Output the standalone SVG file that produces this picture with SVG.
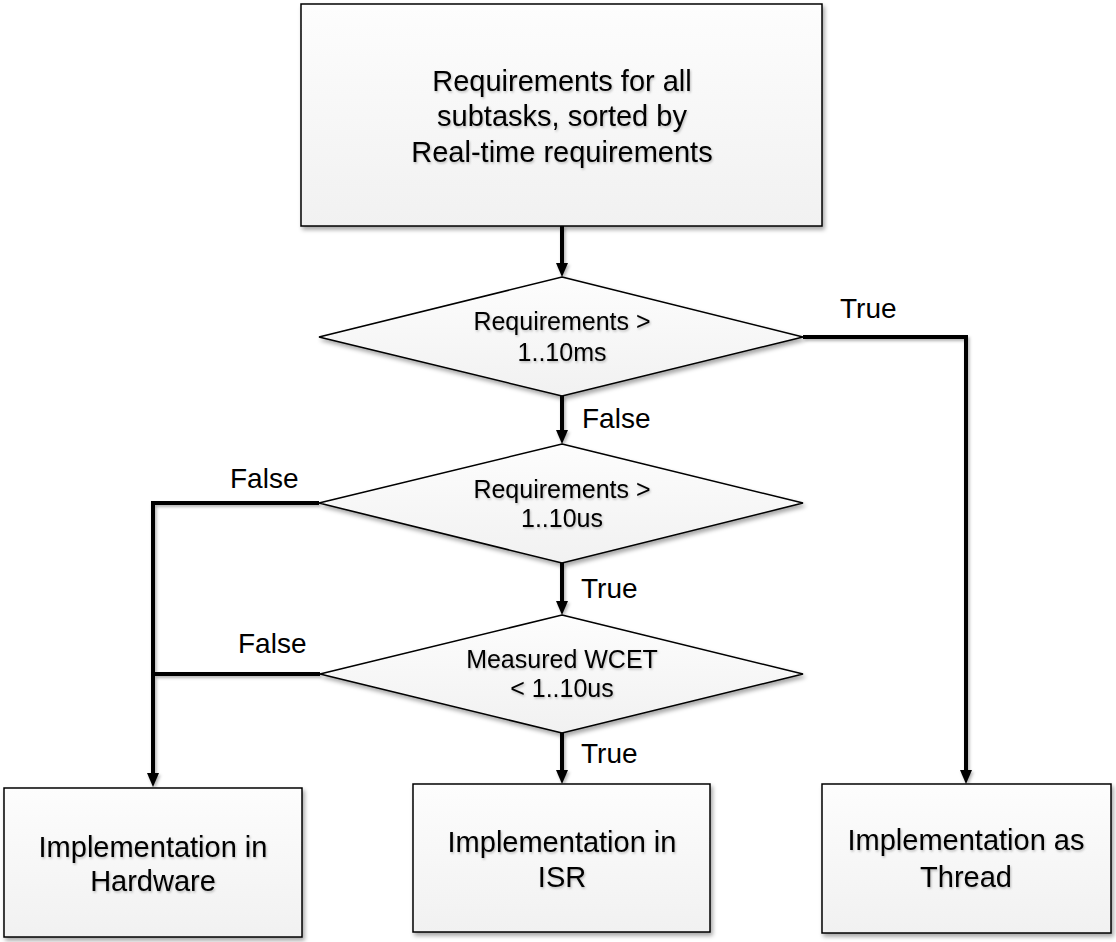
<svg xmlns="http://www.w3.org/2000/svg" width="1116" height="942" viewBox="0 0 1116 942">
<defs>
<linearGradient id="g" x1="0" y1="0" x2="0" y2="1">
<stop offset="0" stop-color="#fdfdfd"/>
<stop offset="1" stop-color="#f1f1f1"/>
</linearGradient>
<filter id="sh" x="-10%" y="-10%" width="120%" height="130%">
<feDropShadow dx="2" dy="3" stdDeviation="2" flood-color="#000" flood-opacity="0.35"/>
</filter>
<filter id="lsh" filterUnits="userSpaceOnUse" x="0" y="0" width="1116" height="942">
<feDropShadow dx="1.5" dy="2" stdDeviation="1.5" flood-color="#000" flood-opacity="0.3"/>
</filter>
<filter id="tsh" x="-5%" y="-20%" width="110%" height="150%">
<feDropShadow dx="1" dy="1.5" stdDeviation="1" flood-color="#000" flood-opacity="0.25"/>
</filter>
<marker id="arr" markerUnits="userSpaceOnUse" markerWidth="14" markerHeight="14" viewBox="0 0 14 12" refX="4" refY="6" orient="auto">
<path d="M0,0 L14,6 L0,12 z" fill="#000"/>
</marker>
</defs>
<style>
.box{fill:url(#g);stroke:#000;stroke-width:1.5;filter:url(#sh)}
.t{font-family:"Liberation Sans",Arial,Helvetica,sans-serif;fill:#000;text-anchor:middle;filter:url(#tsh)}
.big{font-size:29px}
.mid{font-size:25px}
.lbl{font-family:"Liberation Sans",Arial,Helvetica,sans-serif;fill:#000;font-size:28px}
.c{fill:none;stroke:#000;stroke-width:4}
</style>
<rect width="1116" height="942" fill="#fff"/>

<g id="connectors">
<g filter="url(#lsh)">
<path class="c" d="M562,226 V267" marker-end="url(#arr)"/>
<path class="c" d="M803,337 H966 V774" marker-end="url(#arr)"/>
<path class="c" d="M562,396 V434" marker-end="url(#arr)"/>
<path class="c" d="M319,503 H153 V777" marker-end="url(#arr)"/>
<path class="c" d="M562,563 V605" marker-end="url(#arr)"/>
<path class="c" d="M320,674 H153"/>
<path class="c" d="M562,733 V774" marker-end="url(#arr)"/>
</g>
<text class="lbl" x="840" y="318">True</text>
<text class="lbl" x="582" y="428">False</text>
<text class="lbl" x="230" y="488">False</text>
<text class="lbl" x="581" y="598">True</text>
<text class="lbl" x="238" y="653">False</text>
<text class="lbl" x="581" y="763">True</text>
</g>

<g id="start">
<rect class="box" x="301" y="4" width="521" height="222"/>
<text class="t big" x="562" y="91">Requirements for all</text>
<text class="t big" x="562" y="126">subtasks, sorted by</text>
<text class="t big" x="562" y="162">Real-time requirements</text>
</g>

<g id="dec1">
<polygon class="box" points="562,277 803,337 562,396 319,337"/>
<text class="t mid" x="562" y="330">Requirements &gt;</text>
<text class="t mid" x="562" y="361">1..10ms</text>
</g>

<g id="dec2">
<polygon class="box" points="562,444 803,503 562,563 319,503"/>
<text class="t mid" x="562" y="498">Requirements &gt;</text>
<text class="t mid" x="562" y="527">1..10us</text>
</g>

<g id="dec3">
<polygon class="box" points="562,615 803,674 562,733 320,674"/>
<text class="t mid" x="562" y="668">Measured WCET</text>
<text class="t mid" x="562" y="697">&lt; 1..10us</text>
</g>

<g id="hw">
<rect class="box" x="4" y="788" width="298" height="149"/>
<text class="t big" x="153" y="857">Implementation in</text>
<text class="t big" x="153" y="891">Hardware</text>
</g>

<g id="isr">
<rect class="box" x="413" y="784" width="297" height="148"/>
<text class="t big" x="562" y="852">Implementation in</text>
<text class="t big" x="562" y="887">ISR</text>
</g>

<g id="thread">
<rect class="box" x="822" y="784" width="289" height="149"/>
<text class="t big" x="966" y="850">Implementation as</text>
<text class="t big" x="966" y="887">Thread</text>
</g>
</svg>
